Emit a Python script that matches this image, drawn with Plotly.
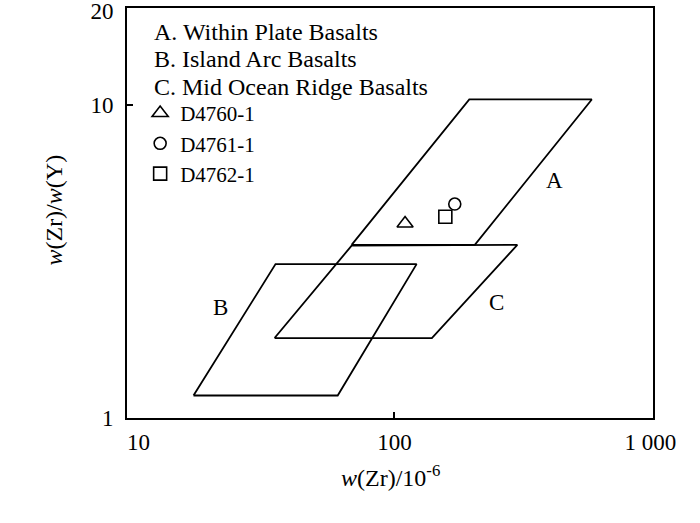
import plotly.graph_objects as go
import math

# Field polygons (Zr in ppm, Zr/Y ratio)
wpb_zr = [68, 206, 590, 196, 68]
wpb_ratio = [3.57, 3.57, 10.4, 10.4, 3.57]
iab_zr = [16.4, 60, 122, 34.3, 16.4]
iab_ratio = [1.18, 1.18, 3.1, 3.1, 1.18]
morb_zr = [34, 140, 302, 68, 34]
morb_ratio = [1.8, 1.8, 3.57, 3.55, 1.8]

# Samples
sample_names = ["D4760-1", "D4761-1", "D4762-1"]
sample_zr = [110, 172, 158]
sample_ratio = [4.18, 4.82, 4.39]
sample_symbols = ["triangle-up-open", "circle-open", "square-open"]
sample_sizes = [14, 12, 13]

# Field labels
field_labels = ["A", "B", "C"]
field_label_zr = [420, 20.9, 251]
field_label_ratio = [5.75, 2.25, 2.33]

legend_lines = ["A. Within Plate Basalts", "B. Island Arc Basalts", "C. Mid Ocean Ridge Basalts"]

x_ticks = [10, 100, 1000]
x_ticktext = ["10", "100", "1 000"]
x_marks = [100]
y_ticks = [1, 10, 20]
y_ticktext = ["1", "10", "20"]
y_marks = [10]

FONT = "Liberation Serif, Times New Roman, serif"

fig = go.Figure()
for xs, ys in [(wpb_zr, wpb_ratio), (iab_zr, iab_ratio), (morb_zr, morb_ratio)]:
    fig.add_trace(go.Scatter(x=xs, y=ys, mode="lines", line=dict(color="black", width=1.8),
                             showlegend=False, hoverinfo="skip"))

for name, x, y, sym, sz in zip(sample_names, sample_zr, sample_ratio, sample_symbols, sample_sizes):
    fig.add_trace(go.Scatter(x=[x], y=[y], mode="markers", name=name,
                             marker=dict(symbol=sym, size=sz, color="black", line=dict(color="black", width=1.6))))

for lab, x, y in zip(field_labels, field_label_zr, field_label_ratio):
    fig.add_annotation(x=math.log10(x), y=math.log10(y), text=lab, showarrow=False,
                       font=dict(family=FONT, size=23, color="black"))

for i, t in enumerate(legend_lines):
    fig.add_annotation(xref="paper", yref="paper", x=0.047, y=0.942 - i * 0.0675, text=t,
                       showarrow=False, xanchor="left", yanchor="middle",
                       font=dict(family=FONT, size=24, color="black"))

fig.add_annotation(xref="paper", yref="paper", x=0.5, y=-0.1415,
                   text="<i>w</i>(Zr)/10<sup>-6</sup>", showarrow=False,
                   xanchor="center", yanchor="middle", font=dict(family=FONT, size=24, color="black"))
fig.add_annotation(xref="paper", yref="paper", x=-0.138, y=0.507,
                   text="<i>w</i>(Zr)/<i>w</i>(Y)", showarrow=False, textangle=-90,
                   xanchor="center", yanchor="middle", font=dict(family=FONT, size=24, color="black"))

fig.update_layout(
    width=700, height=523,
    margin=dict(l=127, r=47, t=8, b=105, autoexpand=False),
    paper_bgcolor="white", plot_bgcolor="white",
    font=dict(family=FONT, size=23, color="black"),
    legend=dict(x=0.025, y=0.793, xanchor="left", yanchor="top", bgcolor="rgba(0,0,0,0)",
                font=dict(family=FONT, size=21, color="black"), itemwidth=30),
)
fig.update_xaxes(type="log", range=[0.955, 3.01], tickvals=x_ticks, ticktext=x_ticktext,
                 showgrid=False, zeroline=False, showline=True, linecolor="black", linewidth=2,
                 mirror=True, ticks="outside", ticklen=0, tickcolor="black", tickwidth=1.5,
                 ticklabelstandoff=2, automargin=False, ticklabeloverflow="allow",
                 minor=dict(tickmode="array", tickvals=x_marks, ticks="inside", ticklen=6,
                            tickwidth=1.5, tickcolor="black", showgrid=False))
fig.update_yaxes(type="log", range=[0, 1.309], tickvals=y_ticks, ticktext=y_ticktext,
                 showgrid=False, zeroline=False, showline=True, linecolor="black", linewidth=2,
                 mirror=True, ticks="outside", ticklen=0, tickcolor="black", tickwidth=1.5,
                 ticklabelstandoff=7, automargin=False, ticklabeloverflow="allow",
                 minor=dict(tickmode="array", tickvals=y_marks, ticks="inside", ticklen=6,
                            tickwidth=1.5, tickcolor="black", showgrid=False))

fig.write_html("out.html", post_script="document.body.style.margin='0px';",
               config={"displayModeBar": False})
